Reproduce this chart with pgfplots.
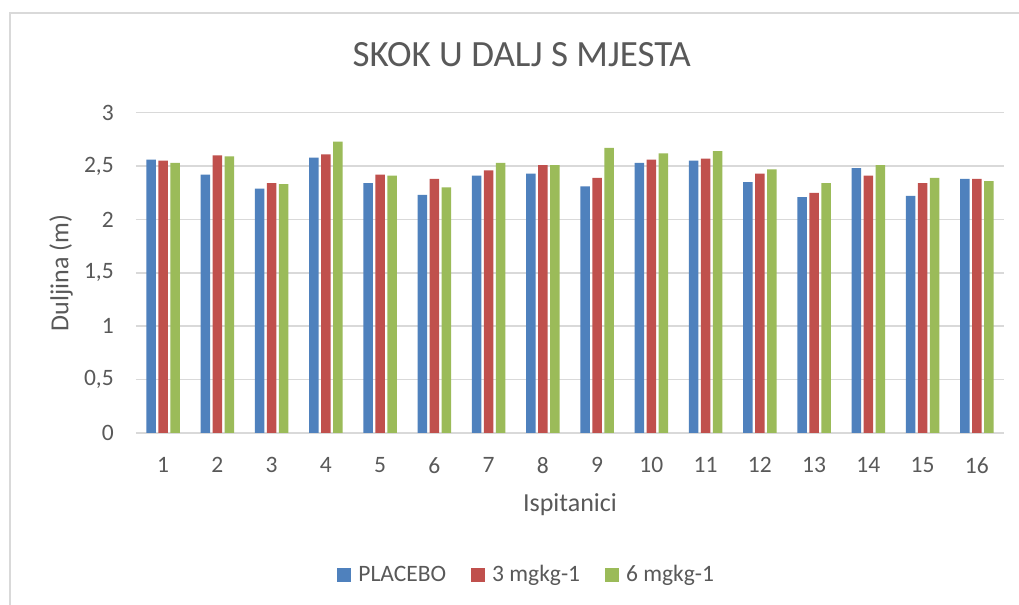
\documentclass[border=0pt]{standalone}
\usepackage{pgfplots}
\pgfplotsset{compat=1.18}
\usepackage{fontspec}
\setmainfont{Carlito}
\definecolor{cblue}{HTML}{4F81BD}
\definecolor{cred}{HTML}{C0504D}
\definecolor{cgreen}{HTML}{9BBB59}
\definecolor{ctext}{HTML}{595959}
\definecolor{cgrid}{HTML}{D9D9D9}
\begin{document}
\begin{tikzpicture}
\useasboundingbox (0,0) rectangle (509.5pt,302.5pt);
\fill[white] (0,0) rectangle (509.5pt,302.5pt);
\draw[cgrid, line width=0.6pt] (5pt,-10pt) -- (5pt,296pt) -- (520pt,296pt);
\begin{axis}[
  at={(68pt,86pt)}, anchor=south west,
  scale only axis, width=434pt, height=160.15pt,
  ybar=1.25pt, bar width=4.75pt,
  xmin=0.5, xmax=16.5, ymin=0, ymax=3,
  xtick={1,...,16}, ytick={0,0.5,...,3},
  major tick length=0pt,
  axis line style={draw=none},
  ymajorgrids, grid style={cgrid, line width=0.75pt},
  /pgf/number format/assume math mode=true,
  /pgf/number format/use comma,
  /pgf/number format/fixed,
  tick label style={font=\fontsize{11.75pt}{14pt}\selectfont, text=ctext},
  xticklabel style={yshift=-8.6pt},
  yticklabel style={xshift=-7.6pt},
  xlabel={Ispitanici}, ylabel={Duljina (m)},
  every axis x label/.style={at={(axis description cs:0.5,-0.2454)}, anchor=base, font=\fontsize{13pt}{15pt}\selectfont, text=ctext},
  every axis y label/.style={at={(axis description cs:-0.0864,0.5)}, rotate=90, anchor=center, font=\fontsize{13pt}{15pt}\selectfont, text=ctext},
  title={SKOK U DALJ S MJESTA},
  every axis title/.style={font=\fontsize{18.5pt}{21pt}\selectfont, text=ctext, at={(axis description cs:0.4444,1)}, anchor=base, yshift=23pt},
  legend columns=3,
  legend style={draw=none, fill=none, font=\fontsize{11.75pt}{14pt}\selectfont, text=ctext,
    at={(axis description cs:0.449,0)}, anchor=center, yshift=-71pt,
    nodes={inner sep=0pt},
    /tikz/every odd column/.append style={column sep=3.8pt},
    /tikz/every even column/.append style={column sep=12.5pt}},
  legend image code/.code={\fill[#1] (0pt,-3.35pt) rectangle (6.7pt,3.35pt);},
]
\addplot[fill=cblue, draw=none] coordinates {(1,2.56) (2,2.42) (3,2.29) (4,2.58) (5,2.34) (6,2.23) (7,2.41) (8,2.43) (9,2.31) (10,2.53) (11,2.55) (12,2.35) (13,2.21) (14,2.48) (15,2.22) (16,2.38)};
\addplot[fill=cred, draw=none] coordinates {(1,2.55) (2,2.60) (3,2.34) (4,2.61) (5,2.42) (6,2.38) (7,2.46) (8,2.51) (9,2.39) (10,2.56) (11,2.57) (12,2.43) (13,2.25) (14,2.41) (15,2.34) (16,2.38)};
\addplot[fill=cgreen, draw=none] coordinates {(1,2.53) (2,2.59) (3,2.33) (4,2.73) (5,2.41) (6,2.30) (7,2.53) (8,2.51) (9,2.67) (10,2.62) (11,2.64) (12,2.47) (13,2.34) (14,2.51) (15,2.39) (16,2.36)};
\legend{PLACEBO, 3 mgkg-1, 6 mgkg-1}
\end{axis}
\end{tikzpicture}
\end{document}
